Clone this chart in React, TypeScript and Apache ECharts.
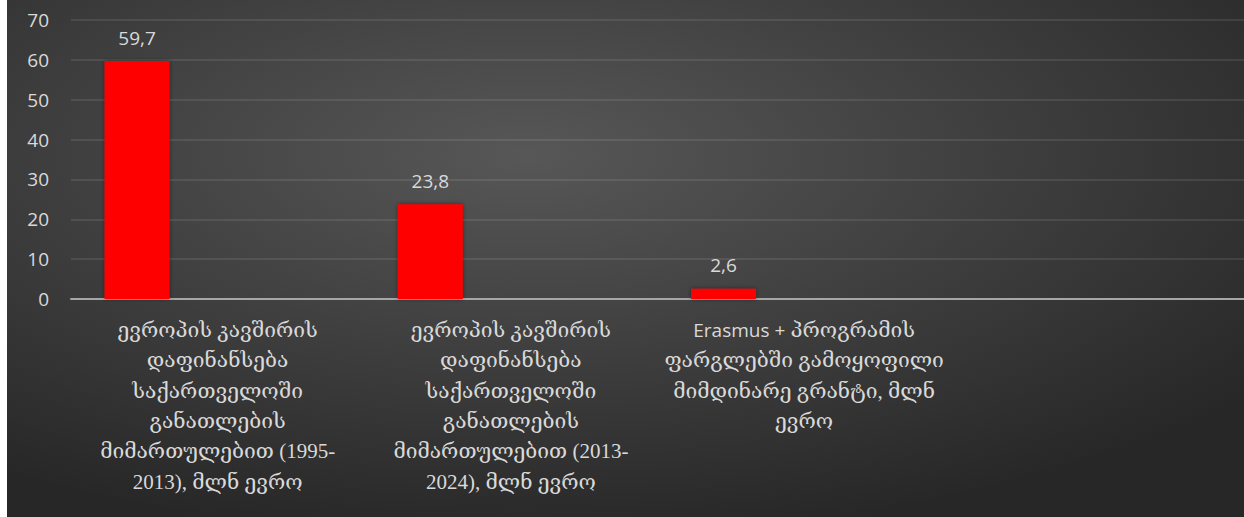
import React, { useEffect, useRef } from "react";
import * as echarts from "echarts";

const categories: string[] = [
  "ევროპის კავშირის\nდაფინანსება\nსაქართველოში\nგანათლების\nმიმართულებით (1995-\n2013), მლნ ევრო",
  "ევროპის კავშირის\nდაფინანსება\nსაქართველოში\nგანათლების\nმიმართულებით (2013-\n2024), მლნ ევრო",
  "Erasmus + პროგრამის\nფარგლებში გამოყოფილი\nმიმდინარე გრანტი, მლნ\nევრო",
  "",
];
const values: (number | null)[] = [59.7, 23.8, 2.6, null];
const emptySeries: (number | null)[] = [null, null, null, null];
const yTicks = { min: 0, max: 70, interval: 10 };

export default function App() {
  const ref = useRef<HTMLDivElement>(null);
  useEffect(() => {
    if (!ref.current) return;
    const chart = echarts.init(ref.current, undefined, { renderer: "svg" });
    chart.setOption({
      animation: false,
      backgroundColor: new echarts.graphic.RadialGradient(0.42, 0.3, 0.75, [
        { offset: 0, color: "#575757" },
        { offset: 1, color: "#272727" },
      ]),
      grid: { left: 64, right: 0, top: 20, bottom: 218, containLabel: false },
      xAxis: {
        type: "category",
        data: categories,
        axisTick: { show: false },
        axisLine: { lineStyle: { color: "#a6a6a6", width: 2 } },
        axisLabel: {
          interval: 0,
          margin: 16,
          color: "#d9d9d9",
          fontSize: 21,
          lineHeight: 30.3,
          fontFamily: "'Liberation Serif', 'DejaVu Serif', serif",
          verticalAlign: "top",
          formatter: (v: string) => v.replace("Erasmus +", "{s|Erasmus +}"),
          rich: {
            s: {
              color: "#d9d9d9",
              fontSize: 19,
              lineHeight: 30.3,
              fontFamily: "'Open Sans', 'Noto Sans', sans-serif",
            },
          },
        },
      },
      yAxis: {
        type: "value",
        min: yTicks.min,
        max: yTicks.max,
        interval: yTicks.interval,
        axisLine: { show: false },
        axisTick: { show: false },
        splitLine: { lineStyle: { color: "rgba(255,255,255,0.12)", width: 1.5 } },
        axisLabel: {
          margin: 22,
          color: "#d9d9d9",
          fontSize: 19,
          fontFamily: "'Open Sans', 'Noto Sans', sans-serif",
        },
      },
      series: [
        {
          type: "bar",
          data: values,
          barWidth: 65,
          barGap: "148%",
          itemStyle: {
            color: "#ff0000",
            shadowColor: "rgba(0,0,0,0.45)",
            shadowBlur: 4,
          },
          label: {
            show: true,
            position: "top",
            distance: 14,
            color: "#d9d9d9",
            fontSize: 19,
            fontFamily: "'Open Sans', 'Noto Sans', sans-serif",
            formatter: (p: any) => String(p.value).replace(".", ","),
          },
        },
        {
          type: "bar",
          data: emptySeries,
          barWidth: 65,
          itemStyle: { color: "#ff0000" },
        },
      ],
    });
    return () => chart.dispose();
  }, []);
  return (
    <div
      ref={ref}
      style={{ position: "absolute", left: 7, top: 0, width: 1237, height: 517 }}
    />
  );
}
